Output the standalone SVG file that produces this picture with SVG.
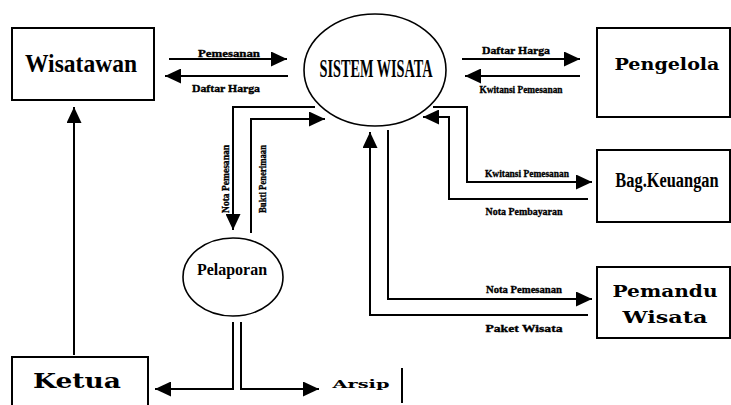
<svg xmlns="http://www.w3.org/2000/svg" width="731" height="405" viewBox="0 0 731 405">
<style>
.box{fill:#fff;stroke:#000;stroke-width:2}
.ell{fill:#fff;stroke:#000;stroke-width:1.6}
.ln{fill:none;stroke:#000;stroke-width:2}
.lbl{font-family:"Liberation Serif",serif;font-weight:bold;font-size:11px;fill:#000;stroke:#000;stroke-width:0.35}
.cond{font-family:"Liberation Serif",serif;font-weight:bold;fill:#000}
.slab{font-family:"DejaVu Serif",serif;font-weight:bold;fill:#000}
</style>
<defs>
<marker id="ah" viewBox="0 0 16 15" refX="16" refY="7.5" markerWidth="16" markerHeight="15" orient="auto" markerUnits="userSpaceOnUse">
<path d="M0,0 L16,7.5 L0,15 z" fill="#000"/>
</marker>
</defs>
<rect width="731" height="405" fill="#fff"/>

<g id="connectors">
<path class="ln" d="M169,59 H287" marker-end="url(#ah)"/>
<path class="ln" d="M288,76 H165" marker-end="url(#ah)"/>
<path class="ln" d="M462,59 H580" marker-end="url(#ah)"/>
<path class="ln" d="M580,76 H465" marker-end="url(#ah)"/>
<path class="ln" d="M433,107 H467 V182 H592" marker-end="url(#ah)"/>
<path class="ln" d="M588,199 H449 V117 H423" marker-end="url(#ah)"/>
<path class="ln" d="M315,107 H233 V230" marker-end="url(#ah)"/>
<path class="ln" d="M251,233 V119 H325" marker-end="url(#ah)"/>
<path class="ln" d="M588,315 H370 V132" marker-end="url(#ah)"/>
<path class="ln" d="M388,130 V299 H592" marker-end="url(#ah)"/>
<path class="ln" d="M74,355 V107" marker-end="url(#ah)"/>
<path class="ln" d="M233,322 V389 H155" marker-end="url(#ah)"/>
<path class="ln" d="M241,322 V389 H319" marker-end="url(#ah)"/>
<text class="lbl" x="229" y="57" text-anchor="middle" textLength="62" lengthAdjust="spacingAndGlyphs">Pemesanan</text>
<text class="lbl" x="226" y="92" text-anchor="middle" textLength="68" lengthAdjust="spacingAndGlyphs">Daftar Harga</text>
<text class="lbl" x="516" y="54" text-anchor="middle" textLength="68" lengthAdjust="spacingAndGlyphs">Daftar Harga</text>
<text class="lbl" x="521" y="93" text-anchor="middle" textLength="83" lengthAdjust="spacingAndGlyphs">Kwitansi Pemesanan</text>
<text class="lbl" x="527" y="177" text-anchor="middle" textLength="84" lengthAdjust="spacingAndGlyphs">Kwitansi Pemesanan</text>
<text class="lbl" x="524" y="215" text-anchor="middle" textLength="77" lengthAdjust="spacingAndGlyphs">Nota Pembayaran</text>
<text class="lbl" x="524" y="293" text-anchor="middle" textLength="76" lengthAdjust="spacingAndGlyphs">Nota Pemesanan</text>
<text class="lbl" x="524" y="332" text-anchor="middle" textLength="77" lengthAdjust="spacingAndGlyphs">Paket Wisata</text>
<text class="lbl" transform="translate(229,179) rotate(-90)" text-anchor="middle" textLength="68" lengthAdjust="spacingAndGlyphs">Nota Pemesanan</text>
<text class="lbl" transform="translate(266,179) rotate(-90)" text-anchor="middle" textLength="68" lengthAdjust="spacingAndGlyphs">Bukti Penerimaan</text>
</g>

<g id="wisatawan">
<rect class="box" x="12" y="28" width="142" height="72"/>
<text class="cond" x="81" y="72" font-size="25" text-anchor="middle" textLength="112" lengthAdjust="spacingAndGlyphs">Wisatawan</text>
</g>

<g id="sistem-wisata">
<ellipse class="ell" cx="375" cy="70" rx="71" ry="56"/>
<text class="cond" x="376" y="77" font-size="25" text-anchor="middle" textLength="113" lengthAdjust="spacingAndGlyphs">SISTEM WISATA</text>
</g>

<g id="pengelola">
<rect class="box" x="597" y="28" width="133" height="89"/>
<text class="slab" x="667" y="70" font-size="17" text-anchor="middle" textLength="105" lengthAdjust="spacingAndGlyphs">Pengelola</text>
</g>

<g id="bag-keuangan">
<rect class="box" x="597" y="150" width="133" height="72"/>
<text class="cond" transform="translate(667,187) scale(0.78,1)" font-size="21" text-anchor="middle">Bag.Keuangan</text>
</g>

<g id="pemandu-wisata">
<rect class="box" x="597" y="267" width="133" height="71"/>
<text class="slab" x="665" y="297" font-size="16" text-anchor="middle" textLength="105" lengthAdjust="spacingAndGlyphs">Pemandu</text>
<text class="slab" x="665" y="323" font-size="16" text-anchor="middle" textLength="85" lengthAdjust="spacingAndGlyphs">Wisata</text>
</g>

<g id="pelaporan">
<ellipse class="ell" cx="233" cy="277" rx="50" ry="39"/>
<text class="cond" x="232" y="275" font-size="17" text-anchor="middle" textLength="70" lengthAdjust="spacingAndGlyphs">Pelaporan</text>
</g>

<g id="ketua">
<rect class="box" x="12" y="357" width="136" height="60"/>
<text class="slab" x="77" y="388" font-size="20" text-anchor="middle" textLength="88" lengthAdjust="spacingAndGlyphs">Ketua</text>
</g>

<g id="arsip">
<text class="slab" x="361" y="388" font-size="11" text-anchor="middle" textLength="57" lengthAdjust="spacingAndGlyphs">Arsip</text>
<path class="ln" d="M402,368 V403" stroke-width="1.5"/>
</g>
</svg>
